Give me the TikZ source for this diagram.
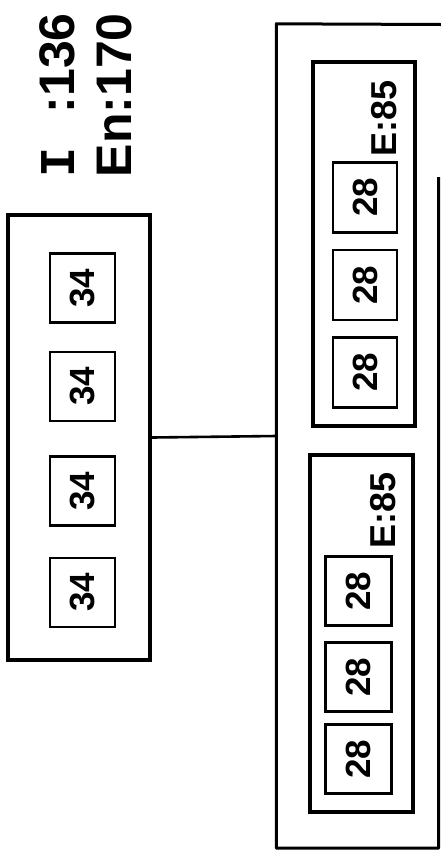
\documentclass[tikz,border=0pt]{standalone}
\usepackage{fontspec}
\usepackage{graphicx}
\setmainfont{Liberation Sans}
\newfontfamily\serifI{Liberation Mono}
\begin{document}
\begin{tikzpicture}[x=1pt,y=-1pt,
  cell/.style={draw,line width=2.6pt,inner sep=0pt,font=\fontsize{35}{35}\selectfont\bfseries},
  group/.style={draw,line width=4pt,inner sep=0pt},
  lbl/.style={inner sep=0pt,font=\fontsize{36}{36}\selectfont\bfseries},
  big/.style={inner sep=0pt,rotate=90,anchor=east,font=\fontsize{50}{50}\selectfont\bfseries}]
\useasboundingbox (0,0) rectangle (441,855);
% top labels
\node[big] (li) at (57,13) {{\serifI\bfseries I}\hspace{34pt}:136};
\node[big] (len) at (114,13) {En:170};
% left block
\node[group,minimum width=142pt,minimum height=445pt] (L) at (79,437.5) {};
\foreach \y/\n in {288/1,386.5/2,491/3,592.5/4}
  \node[cell,minimum width=65pt,minimum height=69pt] (a\n) at (82.5,\y) {\rotatebox{90}{34}};
% right outer block
\node[inner sep=0pt,minimum width=162pt,minimum height=824pt] (R) at (357.5,436) {};
\draw[line width=3pt,line join=round] (441,24.5) -- (R.north west) -- (R.south west) -- (R.south east) -- (438.5,177);
% upper inner group
\node[group,minimum width=102pt,minimum height=364pt] (G1) at (364,244) {};
\foreach \y/\n in {197.5/1,285/2,372.5/3}
  \node[cell,minimum width=64pt,minimum height=70pt] (b\n) at (365,\y) {\rotatebox{90}{28}};
\node[lbl] (e1) at (384,118) {\rotatebox{90}{E:85}};
% lower inner group
\node[group,minimum width=103pt,minimum height=357pt] (G2) at (361.5,633.5) {};
\foreach \y/\n in {591/1,677/2,759/3}
  \node[cell,minimum width=66pt,minimum height=69pt] (c\n) at (358.5,\y) {\rotatebox{90}{28}};
\node[lbl] (e2) at (383,510) {\rotatebox{90}{E:85}};
% connector
\draw[line width=2.6pt] (L.east) -- (R.west);
\end{tikzpicture}
\end{document}
